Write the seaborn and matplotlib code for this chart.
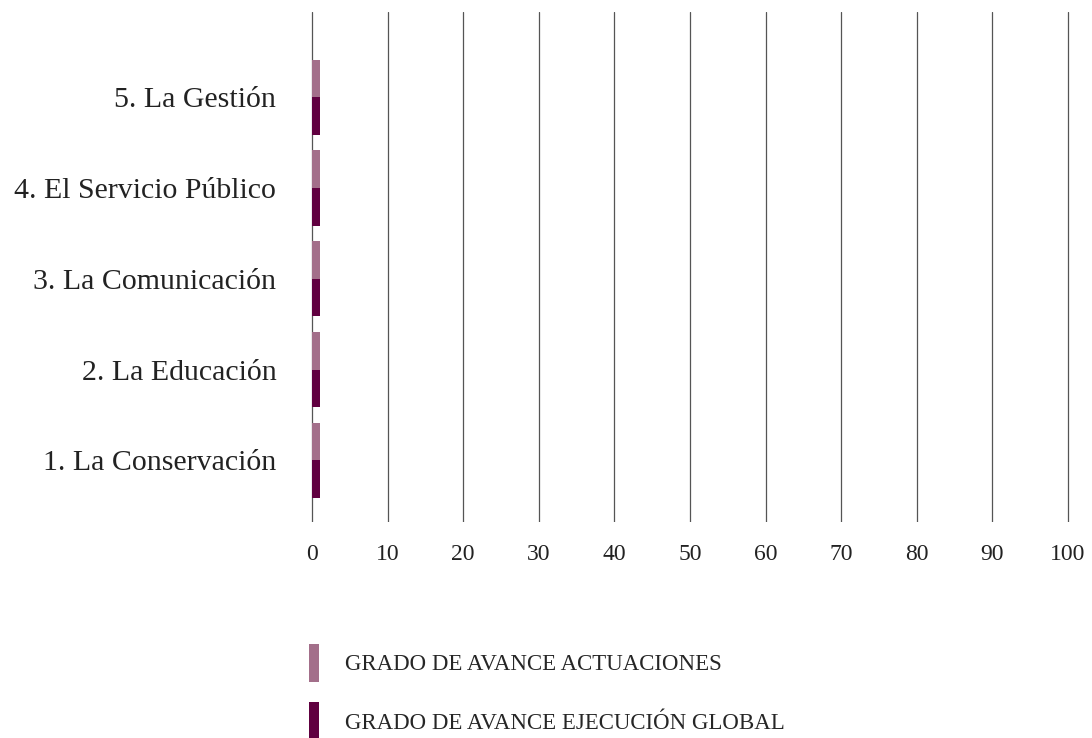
import pandas as pd
import matplotlib
matplotlib.use("Agg")
import matplotlib.pyplot as plt
import seaborn as sns

# Datos
categorias = ["5. La Gestión", "4. El Servicio Público", "3. La Comunicación",
              "2. La Educación", "1. La Conservación"]
series = ["GRADO DE AVANCE ACTUACIONES", "GRADO DE AVANCE EJECUCIÓN GLOBAL"]
avance_actuaciones = [1, 1, 1, 1, 1]
avance_ejecucion = [1, 1, 1, 1, 1]
ticks_x = [0, 10, 20, 30, 40, 50, 60, 70, 80, 90, 100]

colores = ["#a36f8a", "#600040"]

df = pd.DataFrame({
    "Eje": categorias * 2,
    "Serie": [series[0]] * len(categorias) + [series[1]] * len(categorias),
    "Valor": avance_actuaciones + avance_ejecucion,
})

sns.set_theme(style="white")
plt.rcParams["font.family"] = ["Liberation Serif", "DejaVu Serif"]

fig = plt.figure(figsize=(10.92, 7.38), dpi=100)
ax = fig.add_axes([308.2 / 1092, 1 - 522 / 738, (1071.8 - 308.2) / 1092, (522 - 12) / 738])

sns.barplot(data=df, y="Eje", x="Valor", hue="Serie", order=categorias,
            hue_order=series, palette=colores, width=0.83, orient="h",
            saturation=1, linewidth=0, ax=ax)

ax.set_xlim(-0.5, 100.5)
ax.set_ylim(4.68, -0.94)
ax.set_xticks(ticks_x)
ax.set_xticklabels([str(t) for t in ticks_x], fontsize=17, color="#222222")
ax.tick_params(axis="x", length=0, pad=16)
ax.tick_params(axis="y", length=0, pad=23, labelsize=21.5, labelcolor="#222222")
ax.set_xlabel("")
ax.set_ylabel("")
for s in ax.spines.values():
    s.set_visible(False)
ax.grid(False)
for t in ticks_x:
    ax.axvline(t, color="#555555", lw=0.9, zorder=0)

ax.legend_.remove()
handles, labels = ax.get_legend_handles_labels()
fig.legend(handles, labels, loc="upper left",
           bbox_to_anchor=(309 / 1092, 1 - 644 / 738), frameon=False,
           fontsize=16.5, handlelength=0.44, handleheight=2.2,
           labelspacing=0.87, handletextpad=1.13, borderpad=0, borderaxespad=0)

fig.savefig("out.png", dpi=100)
